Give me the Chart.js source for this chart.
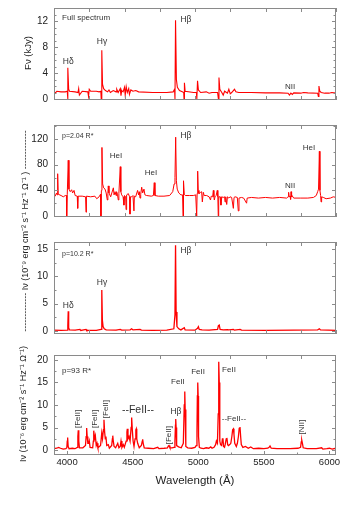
<!DOCTYPE html>
<html><head><meta charset="utf-8">
<script src="https://cdn.jsdelivr.net/npm/chart.js@4"></script>
<style>
html,body{margin:0;padding:0;background:#fff;}
#wrap{position:relative;width:341px;height:510px;overflow:hidden;background:#fff;}
canvas{position:absolute;left:0;}
.vlabel{position:absolute;transform:translate(-50%,-50%) rotate(-90deg);white-space:nowrap;font-family:"Liberation Sans",Arial,sans-serif;color:#222;}
</style></head><body>
<div id="wrap">
<canvas id="c1" width="341" height="110" style="top:0px"></canvas>
<canvas id="c2" width="341" height="110" style="top:115px"></canvas>
<canvas id="c3" width="341" height="110" style="top:232px"></canvas>
<canvas id="c4" width="341" height="165" style="top:345px"></canvas>
<div class="vlabel" style="left:27px;top:53px;font-size:9.5px">Fν (kJy)</div>
<div class="vlabel" style="left:24px;top:231px;font-size:9px">------------- Iν (10⁻⁹ erg cm⁻² s⁻¹ Hz⁻¹ Ω⁻¹ ) -------------</div>
<div class="vlabel" style="left:22px;top:404px;font-size:9px">Iν (10⁻⁶ erg cm⁻² s⁻¹ Hz⁻¹ Ω⁻¹)</div>
</div>
<script>
// ---------- Panel 1: full spectrum (kJy) ----------
const wavelengthFull = [
 4000,4010,4020,4050,4080,4094,4097,4099,4104,4110,
 4150,4170,4175,4180,4200,4240,4245,4250,4260,4300,
 4320,4332,4335,4339,4344,4352,4365,4380,4390,4400,
 4420,4440,4445,4455,4470,4475,4480,4490,4500,4505,
 4512,4520,4530,4535,4545,4560,4580,4600,4700,4800,
 4845,4855,4858,4862,4868,4875,4890,4910,4920,4922,
 4925,4930,4990,5010,5013,5018,5024,5040,5080,5100,
 5120,5160,5166,5170,5176,5190,5200,5210,5230,5240,
 5250,5260,5280,5290,5310,5400,5500,5600,5660,5670,
 5680,5690,5700,5750,5770,5800,5870,5875,5879,5885,
 5895,5920,5950,5970,6000];
const fluxFull = [
 1.2,0.9,1.2,1.1,1.1,1.2,0,4.8,1.5,1.2,
 1.1,1.0,1.6,0.6,1.2,1.1,0.4,1.5,1.2,1.2,
 1.1,1.2,0,7.5,2.3,1.6,1.3,1.1,1.4,1.0,
 1.3,1.1,1.5,1.0,1.6,0.5,1.3,1.1,1.8,0.6,
 1.9,1.0,1.6,0.7,1.4,1.2,1.3,1.1,1.0,1.0,
 1.1,1.5,0,12.1,3.0,1.8,1.3,1.1,1.0,0,
 2.5,1.2,1.0,1.0,0,2.8,1.4,1.0,1.1,0.9,
 1.0,1.0,0,3.3,1.5,1.0,0.6,1.2,0.9,1.5,
 0.8,1.0,1.5,1.1,1.0,1.0,0.95,0.95,0.9,0.6,
 0.9,0.7,0.95,0.9,1.0,0.95,0.9,0.4,2.0,1.2,
 1.0,0.9,0.9,1.0,0.9];

// ---------- Panel 2: p = 2.04 R* ----------
const wavelengthP2 = [
 4000,4008,4018,4022,4026,4030,4050,4066,4080,4088,
 4090,4094,4101,4106,4115,4125,4132,4142,4150,4165,
 4168,4171,4200,4224,4227,4230,4260,4290,4303,4320,
 4330,4333,4336,4340,4345,4352,4362,4370,4378,4382,
 4385,4390,4402,4410,4421,4426,4433,4440,4444,4450,
 4456,4460,4470,4474,4480,4490,4496,4500,4508,4511,
 4515,4527,4536,4539,4542,4551,4560,4567,4570,4579,
 4593,4600,4605,4610,4615,4622,4629,4638,4645,4657,
 4690,4705,4711,4716,4740,4780,4820,4842,4852,4858,
 4863,4868,4874,4885,4900,4912,4915,4917,4920,4924,
 4931,4960,4988,5005,5012,5015,5019,5023,5028,5040,
 5047,5052,5059,5065,5083,5100,5110,5115,5125,5130,
 5134,5137,5142,5150,5158,5162,5165,5168,5178,5184,
 5190,5200,5210,5213,5218,5225,5230,5240,5248,5260,
 5272,5277,5284,5300,5307,5312,5330,5345,5366,5370,
 5400,5450,5500,5550,5600,5650,5660,5664,5668,5674,
 5678,5681,5685,5688,5700,5750,5800,5840,5860,5870,
 5876,5882,5886,5891,5894,5898,5910,5930,5960,5981,
 6000];
const intensityP2 = [
 35,31,36,33,66,34,32,30,32,32,
 0,34,87,42,38,41,36,40,32,31,
 12,31,31,30,6,31,30,31,27,30,
 34,0,40,107,50,44,42,36,25,35,
 47,36,30,36,44,33,38,32,38,34,
 25,35,77,38,33,30,17,32,30,10,
 33,35,30,3,30,30,32,8,31,30,
 40,33,38,28,34,45,36,42,33,32,
 31,32,52,32,31,31,32,38,50,60,
 123,55,42,36,33,33,0,33,55,34,
 32,32,32,33,0,35,70,40,35,37,
 38,22,37,32,32,30,25,31,30,40,
 30,25,30,32,40,30,0,30,30,17,
 30,29,30,22,30,18,30,28,30,29,
 12,29,30,29,8,28,29,28,20,28,
 29,28,29,28,29,28,30,37,30,31,
 26,38,30,32,28,28,28,29,32,38,
 42,101,40,32,22,30,29,27,28,30,
 29];

// ---------- Panel 3: p = 10.2 R* ----------
const wavelengthP3 = [
 4000,4050,4094,4098,4101,4104,4110,4150,4184,4190,
 4227,4232,4300,4334,4338,4340,4343,4348,4356,4370,
 4440,4470,4480,4540,4551,4560,4610,4620,4700,4800,
 4850,4858,4862,4866,4872,4885,4900,4924,4930,5000,
 5018,5024,5030,5050,5100,5160,5166,5172,5178,5200,
 5230,5240,5272,5280,5320,5330,5500,5700,5870,5882,
 5890,6000];
const intensityP3 = [
 0.15,0.1,0.15,1.0,3.6,0.6,0.2,0.15,0.3,0.1,
 0.3,0.1,0.1,0.3,3.0,7.5,2.0,0.8,0.4,0.2,
 0.15,0.3,0.15,0.2,0.4,0.2,0.3,0.15,0.1,0.15,
 0.4,3.0,15.7,3.5,0.8,0.4,0.2,0.6,0.2,0.15,
 0.5,0.8,0.3,0.2,0.15,0.3,1.0,1.1,0.3,0.2,
 0.25,0.2,0.3,0.15,0.3,0.15,0.1,0.15,0.2,0.4,
 0.2,0.1];

// ---------- Panel 4: p = 93 R* ----------
const wavelengthP4 = [
 3900,3920,3935,3950,3970,3990,3998,4001,4004,4008,
 4015,4040,4060,4078,4082,4085,4089,4094,4120,4140,
 4145,4149,4153,4158,4165,4169,4175,4195,4200,4203,
 4209,4215,4222,4228,4235,4255,4264,4270,4277,4281,
 4286,4291,4296,4302,4314,4322,4340,4345,4348,4352,
 4358,4370,4386,4395,4405,4411,4418,4428,4436,4450,
 4456,4459,4464,4472,4480,4488,4492,4497,4503,4510,
 4518,4524,4527,4531,4538,4550,4566,4573,4576,4580,
 4588,4620,4660,4691,4700,4740,4765,4772,4777,4784,
 4800,4815,4822,4826,4828,4831,4835,4850,4870,4886,
 4893,4897,4900,4905,4920,4950,4975,4984,4990,4993,
 4996,4999,5002,5008,5020,5040,5060,5080,5095,5105,
 5120,5132,5138,5146,5152,5156,5160,5164,5170,5178,
 5184,5188,5193,5200,5205,5213,5218,5224,5230,5240,
 5248,5256,5262,5268,5272,5278,5290,5298,5306,5312,
 5318,5323,5328,5340,5360,5381,5400,5420,5460,5500,
 5530,5540,5547,5556,5600,5650,5700,5760,5780,5785,
 5789,5794,5800,5830,5870,5900,5941,5950,5980,6000,
 6020,6050];
const intensityP4 = [
 0.3,0.4,0.6,0.4,0.2,0.3,0.5,2.0,2.8,0.8,
 0.3,0.4,0.3,0.6,3.0,4.4,2.0,0.5,0.5,1.0,
 3.0,4.9,3.0,1.5,1.5,2.0,0.6,0.5,2.0,4.3,
 2.5,3.2,1.0,1.5,0.5,1.0,3.8,2.5,4.5,6.7,
 4.0,2.5,3.0,1.0,1.2,0.4,1.0,2.5,3.2,2.0,
 0.8,0.5,1.5,0.5,0.8,2.0,0.6,1.2,0.6,2.0,
 4.0,4.7,2.5,3.0,2.0,5.0,7.2,4.5,2.0,0.8,
 2.5,4.5,4.7,2.5,1.5,0.5,1.0,2.0,2.4,1.5,
 0.5,0.4,0.3,0.6,0.3,0.4,0.5,0.9,1.0,0.5,
 0.5,0.6,2.0,5.5,6.9,5.0,1.0,0.7,0.5,1.5,
 10.0,13.0,9.0,0.8,0.5,0.4,0.6,1.0,4.0,12.0,
 15.0,12.0,3.0,0.6,0.4,0.3,0.5,0.4,0.7,0.4,
 0.6,1.2,2.0,1.5,8.0,19.6,15.0,2.0,1.2,1.0,
 2.5,2.6,0.8,0.6,1.2,2.5,2.7,1.2,1.0,1.2,
 1.5,3.0,4.5,4.7,3.5,1.5,0.8,1.5,3.0,4.8,
 5.1,3.0,1.2,0.6,0.8,0.4,0.7,0.3,0.4,0.3,
 0.4,0.6,0.9,0.4,0.3,0.3,0.3,0.4,0.6,1.8,
 2.2,1.5,0.5,0.3,0.3,0.3,0.5,0.2,0.3,0.4,
 0.2,0.4];

// ---------- Axis ticks ----------
const xTicksTop = [4000,4250,4500,4750,5000,5250,5500,5750,6000];
const xTickLabelsBottom = [4000,4500,5000,5500,6000];
const xMinorBottom = [4250,4750,5250,5750];
const xTopEdgeBottomPanel = [4169,4438,4706,4975,5244,5513,5781];
const yTicksP1 = [0,4,8,12];
const yMinorP1 = [1,2,3,5,6,7,9,10,11,13];
const yTicksP2 = [0,40,80,120];
const yMinorP2 = [20,60,100,140];
const yTicksP3 = [0,5,10,15];
const yMinorP3 = [2.5,7.5,12.5];
const yTicksP4 = [0,5,10,15,20];
const yMinorP4 = [2.5,7.5,12.5,17.5];

// ---------- Annotations ----------
const labelsP1 = [
 {text:'Full spectrum', wl:4057, v:12.5, size:8, align:'left'},
 {text:'Hδ', wl:4101, v:5.8, size:8.5},
 {text:'Hγ', wl:4340, v:8.8, size:8.5},
 {text:'Hβ', wl:4936, v:12.2, size:8.5},
 {text:'NII', wl:5674, v:1.9, size:8}
];
const labelsP2 = [
 {text:'p=2.04 R*', wl:4057, v:125, size:7, align:'left'},
 {text:'HeI', wl:4440, v:94, size:8},
 {text:'HeI', wl:4688, v:67, size:8},
 {text:'Hβ', wl:4936, v:125, size:8.5},
 {text:'NII', wl:5674, v:47, size:8},
 {text:'HeI', wl:5809, v:106, size:8}
];
const labelsP3 = [
 {text:'p=10.2 R*', wl:4057, v:14.1, size:7, align:'left'},
 {text:'Hβ', wl:4936, v:14.8, size:8.5},
 {text:'Hγ', wl:4340, v:8.8, size:8.5},
 {text:'Hδ', wl:4101, v:4.6, size:8.5}
];
const labelsP4 = [
 {text:'p=93 R*', wl:3961, v:17.6, size:8, align:'left'},
 {text:'[FeII]', wl:4083, v:6.9, size:8, rot:true},
 {text:'[FeII]', wl:4213, v:6.9, size:8, rot:true},
 {text:'[FeII]', wl:4296, v:9.1, size:8, rot:true},
 {text:'--FeII--', wl:4540, v:8.9, size:10.5},
 {text:'[FeII]', wl:4777, v:3.3, size:8, rot:true},
 {text:'Hβ', wl:4830, v:8.5, size:8.5},
 {text:'FeII', wl:4845, v:15.2, size:8},
 {text:'FeII', wl:4998, v:17.3, size:8},
 {text:'FeII', wl:5234, v:17.9, size:8},
 {text:'--FeII--', wl:5272, v:6.9, size:8},
 {text:'[NII]', wl:5791, v:5.1, size:8, rot:true}
];

const FONT = '"Liberation Sans", Arial, sans-serif';
const RED = 'rgb(255,0,0)';
const FRAME = '#8a8a8a';
const TEXT = '#333';

const decoPlugin = {
  id: 'panelDeco',
  afterDatasetsDraw(chart, args, o) {
    const {ctx, chartArea: a} = chart;
    const xs = chart.scales.x, ys = chart.scales.y;
    ctx.save();
    ctx.strokeStyle = FRAME; ctx.lineWidth = 1;
    ctx.strokeRect(Math.round(a.left)+0.5, Math.round(a.top)+0.5, Math.round(a.right-a.left)-1, Math.round(a.bottom-a.top)-1);
    ctx.beginPath();
    const xt = (list, len, edge) => list.forEach(v => {
      const p = Math.round(xs.getPixelForValue(v)) + 0.5;
      if (edge !== 'top') { ctx.moveTo(p, a.bottom); ctx.lineTo(p, a.bottom - len); }
      if (edge !== 'bottom') { ctx.moveTo(p, a.top); ctx.lineTo(p, a.top + len); }
    });
    const yt = (list, len) => list.forEach(v => {
      const p = Math.round(ys.getPixelForValue(v)) + 0.5;
      ctx.moveTo(a.left, p); ctx.lineTo(a.left + len, p);
      ctx.moveTo(a.right, p); ctx.lineTo(a.right - len, p);
    });
    if (o.xTopEdge) {
      xt(o.xMajor, 4, 'bottom'); xt(o.xMinor, 2.5, 'bottom'); xt(o.xTopEdge, 4, 'top');
    } else {
      xt(o.xMajor, 4); xt(o.xMinor, 2.5);
    }
    yt(o.yMajor, 4); yt(o.yMinor, 2.5);
    ctx.stroke();
    ctx.fillStyle = TEXT;
    o.labels.forEach(l => {
      const px = xs.getPixelForValue(l.wl), py = ys.getPixelForValue(l.v);
      ctx.font = l.size + 'px ' + FONT;
      ctx.textBaseline = 'middle';
      ctx.textAlign = l.align || 'center';
      if (l.rot) {
        ctx.save(); ctx.translate(px, py); ctx.rotate(-Math.PI/2);
        ctx.textAlign = 'center'; ctx.fillText(l.text, 0, 0); ctx.restore();
      } else ctx.fillText(l.text, px, py);
    });
    ctx.restore();
  }
};

function makePanel(id, c) {
  const pts = c.wl.map((w, i) => ({x: w, y: c.vals[i]}));
  return new Chart(document.getElementById(id), {
    type: 'line',
    data: {datasets: [{data: pts, borderColor: RED, borderWidth: c.lw, pointRadius: 0, tension: 0, fill: false}]},
    options: {
      responsive: false, animation: false, events: [],
      layout: {padding: c.pad},
      plugins: {legend: {display: false}, tooltip: {enabled: false},
        panelDeco: {xMajor: c.xMajor, xMinor: c.xMinor, xTopEdge: c.xTopEdge, yMajor: c.yTicks, yMinor: c.yMinor, labels: c.labels}},
      scales: {
        x: {
          type: 'linear', min: c.xMin, max: c.xMax, display: c.showX,
          afterBuildTicks: s => { s.ticks = (c.xLabels || []).map(v => ({value: v})); },
          ticks: {padding: 2, color: '#222', font: {family: FONT, size: 9.5}, maxRotation: 0, autoSkip: false,
                  callback: v => String(v)},
          grid: {display: false, drawTicks: false}, border: {display: false},
          title: {display: !!c.xTitle, text: c.xTitle, color: '#222', font: {family: FONT, size: 11.5}, padding: 0},
          afterFit: s => { s.height = c.xHeight || 0; s.paddingLeft = 0; s.paddingRight = 0; }
        },
        y: {
          type: 'linear', min: c.yMin, max: c.yMax,
          afterBuildTicks: s => { s.ticks = c.yTicks.map(v => ({value: v})); },
          ticks: {padding: 6, color: '#222', font: {family: FONT, size: c.yFont}, callback: v => String(v)},
          grid: {display: false, drawTicks: false}, border: {display: false},
          afterFit: s => { s.width = 54; s.paddingTop = 0; s.paddingBottom = 0; }
        }
      }
    },
    plugins: [decoPlugin]
  });
}

makePanel('c1', {wl: wavelengthFull, vals: fluxFull, lw: 1.1, pad: {top: 8, bottom: 10, left: 0, right: 5},
  xMin: 4000, xMax: 6000, showX: false, xMajor: xTicksTop, xMinor: [],
  yMin: -0.15, yMax: 14, yTicks: yTicksP1, yMinor: yMinorP1, yFont: 10, labels: labelsP1});
makePanel('c2', {wl: wavelengthP2, vals: intensityP2, lw: 1, pad: {top: 10, bottom: 8, left: 0, right: 5},
  xMin: 4000, xMax: 6000, showX: false, xMajor: xTicksTop, xMinor: [],
  yMin: -1.5, yMax: 142, yTicks: yTicksP2, yMinor: yMinorP2, yFont: 10, labels: labelsP2});
makePanel('c3', {wl: wavelengthP3, vals: intensityP3, lw: 1.3, pad: {top: 10, bottom: 8, left: 0, right: 5},
  xMin: 4000, xMax: 6000, showX: false, xMajor: xTicksTop, xMinor: [],
  yMin: -0.55, yMax: 16.3, yTicks: yTicksP3, yMinor: yMinorP3, yFont: 10, labels: labelsP3});
makePanel('c4', {wl: wavelengthP4, vals: intensityP4, lw: 1.3, pad: {top: 10, bottom: 22, left: 0, right: 5},
  xMin: 3900, xMax: 6050, showX: true, xLabels: xTickLabelsBottom, xTitle: 'Wavelength (Å)', xHeight: 33,
  xMajor: xTickLabelsBottom, xMinor: xMinorBottom, xTopEdge: xTopEdgeBottomPanel,
  yMin: -1.1, yMax: 21.1, yTicks: yTicksP4, yMinor: yMinorP4, yFont: 10, labels: labelsP4});
</script>
</body></html>
